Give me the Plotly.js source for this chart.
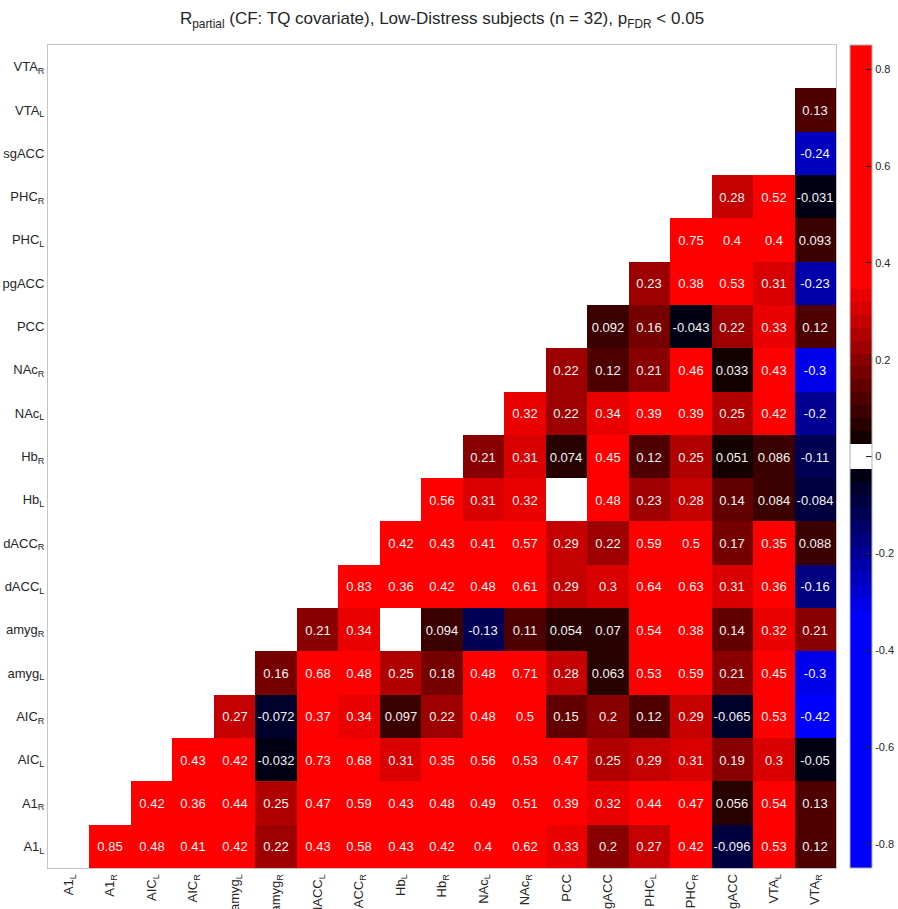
<!DOCTYPE html>
<html>
<head>
<meta charset="utf-8">
<script src="https://cdn.plot.ly/plotly-3.0.1.min.js"></script>
<style>html,body{margin:0;padding:0;background:#fff;}#chart{width:898px;height:909px;}</style>
</head>
<body>
<div id="chart"></div>
<script>
// Region labels (x left→right, y bottom→top)
const labels = ["A1<sub>L</sub>","A1<sub>R</sub>","AIC<sub>L</sub>","AIC<sub>R</sub>","amyg<sub>L</sub>","amyg<sub>R</sub>",
  "dACC<sub>L</sub>","dACC<sub>R</sub>","Hb<sub>L</sub>","Hb<sub>R</sub>","NAc<sub>L</sub>","NAc<sub>R</sub>","PCC","pgACC",
  "PHC<sub>L</sub>","PHC<sub>R</sub>","sgACC","VTA<sub>L</sub>","VTA<sub>R</sub>"];

// Upper-triangle values per row (columns to the right of the diagonal); null = blank cell
const row_A1_L   = [0.85, 0.48, 0.41, 0.42, 0.22, 0.43, 0.58, 0.43, 0.42, 0.4, 0.62, 0.33, 0.2, 0.27, 0.42, -0.096, 0.53, 0.12];
const row_A1_R   = [0.42, 0.36, 0.44, 0.25, 0.47, 0.59, 0.43, 0.48, 0.49, 0.51, 0.39, 0.32, 0.44, 0.47, 0.056, 0.54, 0.13];
const row_AIC_L  = [0.43, 0.42, -0.032, 0.73, 0.68, 0.31, 0.35, 0.56, 0.53, 0.47, 0.25, 0.29, 0.31, 0.19, 0.3, -0.05];
const row_AIC_R  = [0.27, -0.072, 0.37, 0.34, 0.097, 0.22, 0.48, 0.5, 0.15, 0.2, 0.12, 0.29, -0.065, 0.53, -0.42];
const row_amyg_L = [0.16, 0.68, 0.48, 0.25, 0.18, 0.48, 0.71, 0.28, 0.063, 0.53, 0.59, 0.21, 0.45, -0.3];
const row_amyg_R = [0.21, 0.34, null, 0.094, -0.13, 0.11, 0.054, 0.07, 0.54, 0.38, 0.14, 0.32, 0.21];
const row_dACC_L = [0.83, 0.36, 0.42, 0.48, 0.61, 0.29, 0.3, 0.64, 0.63, 0.31, 0.36, -0.16];
const row_dACC_R = [0.42, 0.43, 0.41, 0.57, 0.29, 0.22, 0.59, 0.5, 0.17, 0.35, 0.088];
const row_Hb_L   = [0.56, 0.31, 0.32, null, 0.48, 0.23, 0.28, 0.14, 0.084, -0.084];
const row_Hb_R   = [0.21, 0.31, 0.074, 0.45, 0.12, 0.25, 0.051, 0.086, -0.11];
const row_NAc_L  = [0.32, 0.22, 0.34, 0.39, 0.39, 0.25, 0.42, -0.2];
const row_NAc_R  = [0.22, 0.12, 0.21, 0.46, 0.033, 0.43, -0.3];
const row_PCC    = [0.092, 0.16, -0.043, 0.22, 0.33, 0.12];
const row_pgACC  = [0.23, 0.38, 0.53, 0.31, -0.23];
const row_PHC_L  = [0.75, 0.4, 0.4, 0.093];
const row_PHC_R  = [0.28, 0.52, -0.031];
const row_sgACC  = [null, -0.24];
const row_VTA_L  = [0.13];
const row_VTA_R  = [];

const rows = [row_A1_L,row_A1_R,row_AIC_L,row_AIC_R,row_amyg_L,row_amyg_R,row_dACC_L,row_dACC_R,row_Hb_L,row_Hb_R,
  row_NAc_L,row_NAc_R,row_PCC,row_pgACC,row_PHC_L,row_PHC_R,row_sgACC,row_VTA_L,row_VTA_R];

const cbTickVals = [-0.8,-0.6,-0.4,-0.2,0,0.2,0.4,0.6,0.8];
const zLim = 0.85;

const n = labels.length;
const z = [], txt = [];
for (let i = 0; i < n; i++) {
  const zr = [], tr = [];
  for (let j = 0; j < n; j++) {
    let v = null;
    if (j > i) { const r = rows[i]; v = r[j - i - 1]; if (v === undefined) v = null; }
    zr.push(v);
    tr.push(v === null ? "" : String(Number(v.toPrecision(2))));
  }
  z.push(zr); txt.push(tr);
}

// 64-level MATLAB-like colormap: blue-black-white-black-red
const nb = 64, cs = [];
for (let k = 0; k < nb; k++) {
  let c;
  if (k === 31 || k === 32) c = "rgb(255,255,255)";
  else if (k > 32) { const m = k - 32; c = "rgb(" + Math.min(255, Math.round(255 * m / 13)) + ",0,0)"; }
  else { const m = 31 - k; c = "rgb(0,0," + Math.min(255, Math.round(255 * m / 12)) + ")"; }
  const a = k === 0 ? 0 : +(k / nb + 1e-7).toFixed(8);
  const b = k === nb - 1 ? 1 : +((k + 1) / nb).toFixed(8);
  cs.push([a, c]); cs.push([b, c]);
}

const font = "Liberation Sans, Arial, Helvetica, sans-serif";
const plotL = 48, plotR = 836;
const trace = {
  type: "heatmap", x: labels, y: labels, z: z, text: txt, texttemplate: "%{text}",
  textfont: {family: font, size: 13, color: "#f4f4f4"},
  colorscale: cs, zmin: -zLim, zmax: zLim, hoverongaps: false,
  colorbar: {
    x: (850 - plotL) / (plotR - plotL), xanchor: "left", xpad: 0,
    y: 1, yanchor: "top", ypad: 0, len: 1, lenmode: "fraction",
    thicknessmode: "pixels", thickness: 22,
    outlinecolor: "#b0b0b0", outlinewidth: 1,
    tickvals: cbTickVals, ticktext: cbTickVals.map(String),
    ticks: "inside", ticklen: 6, tickwidth: 1, tickcolor: "#262626",
    tickfont: {family: font, size: 11, color: "#262626"}
  }
};

const layout = {
  width: 898, height: 909,
  margin: {l: plotL, r: 898 - plotR, t: 45, b: 41, autoexpand: false},
  paper_bgcolor: "#ffffff", plot_bgcolor: "#ffffff",
  title: {
    text: "R<sub>partial</sub> (CF: TQ covariate), Low-Distress subjects (n = 32), p<sub>FDR</sub> &lt; 0.05",
    font: {family: font, size: 17, color: "#262626"},
    xref: "paper", x: 0.5, xanchor: "center", yref: "container", y: 1 - 18/909, yanchor: "middle"
  },
  xaxis: {type: "category", tickangle: -90, ticks: "", showgrid: false, zeroline: false,
    showline: true, mirror: true, linecolor: "#c4c4c4", linewidth: 1,
    tickfont: {family: font, size: 13, color: "#262626"}, automargin: false},
  yaxis: {type: "category", ticks: "", showgrid: false, zeroline: false,
    showline: true, mirror: true, linecolor: "#c4c4c4", linewidth: 1,
    tickfont: {family: font, size: 13, color: "#262626"}, automargin: false}
};

Plotly.newPlot("chart", [trace], layout, {displayModeBar: false, staticPlot: true});
</script>
</body>
</html>
